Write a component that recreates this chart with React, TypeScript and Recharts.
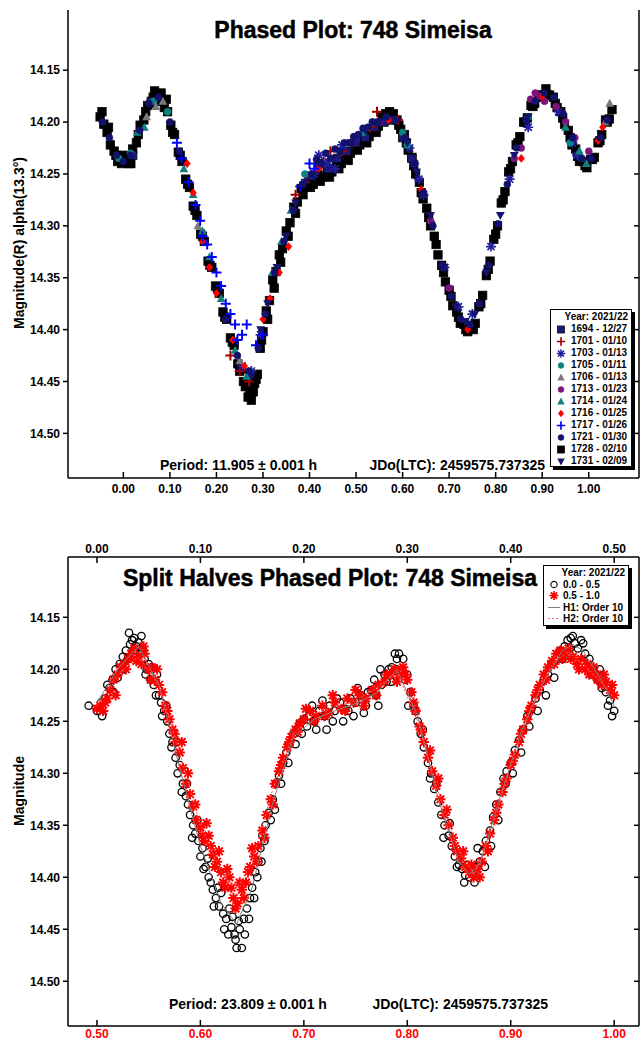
import React from "react";
import { ComposedChart, Scatter, XAxis, YAxis } from "recharts";

type Pt = [number, number];

// ---------- top panel: P = 11.905 h, one array per session [phase, mag] ----------
const s1694: Pt[] = [[0.02, 14.232], [0.06, 14.18], [0.4, 14.252], [0.42, 14.24], [0.44, 14.245], [0.46, 14.235], [0.48, 14.228], [0.5, 14.22], [0.52, 14.215], [0.54, 14.205], [0.56, 14.2], [0.58, 14.198], [0.6, 14.215], [0.62, 14.235]];
const s1701: Pt[] = [[0.545, 14.19], [0.53, 14.205], [0.49, 14.218], [0.47, 14.228], [0.445, 14.228], [0.43, 14.238], [0.39, 14.258], [0.37, 14.27], [0.27, 14.45], [0.25, 14.44], [0.23, 14.425], [0.59, 14.198]];
const s1703: Pt[] = [[0.255, 14.435], [0.275, 14.44], [0.295, 14.405], [0.41, 14.25], [0.42, 14.232], [0.43, 14.24], [0.44, 14.238], [0.455, 14.245], [0.47, 14.222], [0.5, 14.215], [0.615, 14.225], [0.625, 14.24], [0.635, 14.255], [0.645, 14.27], [0.69, 14.34], [0.72, 14.378], [0.75, 14.385], [0.79, 14.32], [0.83, 14.255], [0.87, 14.205], [0.965, 14.22], [0.975, 14.232], [0.935, 14.19]];
const s1705: Pt[] = [[-0.01, 14.235], [0.015, 14.23], [0.065, 14.18], [0.095, 14.19], [0.39, 14.25], [0.515, 14.21], [0.535, 14.2], [0.6, 14.21], [0.61, 14.222], [0.87, 14.195], [0.96, 14.22], [0.985, 14.235]];
const s1706: Pt[] = [[0.05, 14.195], [0.07, 14.185], [0.085, 14.18], [0.16, 14.3], [0.25, 14.43], [1.045, 14.182], [1.035, 14.2]];
const s1713: Pt[] = [[0.84, 14.235], [0.855, 14.225], [0.875, 14.178], [0.885, 14.172], [0.895, 14.175], [0.905, 14.18], [0.93, 14.185], [0.95, 14.2], [0.97, 14.215], [1.0, 14.228], [0.66, 14.295], [0.7, 14.36], [0.55, 14.2]];
const s1714: Pt[] = [[0.03, 14.21], [0.045, 14.205], [0.13, 14.245], [0.15, 14.27], [0.17, 14.305], [0.185, 14.33], [0.21, 14.37], [0.24, 14.42], [0.265, 14.445], [0.32, 14.345], [0.34, 14.315], [0.36, 14.285], [0.98, 14.228], [0.995, 14.24], [0.95, 14.205]];
const s1716: Pt[] = [[0.137, 14.24], [0.15, 14.268], [0.17, 14.315], [0.185, 14.34], [0.2, 14.365], [0.235, 14.41], [0.26, 14.435], [0.3, 14.39], [0.315, 14.37], [0.335, 14.345], [0.355, 14.32], [0.42, 14.245], [0.57, 14.198], [0.64, 14.265], [0.74, 14.4], [0.855, 14.235], [0.9, 14.175], [1.02, 14.218], [1.03, 14.205]];
const s1717: Pt[] = [[0.115, 14.22], [0.125, 14.235], [0.14, 14.258], [0.155, 14.28], [0.165, 14.295], [0.17, 14.31], [0.18, 14.318], [0.19, 14.33], [0.2, 14.345], [0.21, 14.358], [0.22, 14.375], [0.23, 14.385], [0.24, 14.395], [0.245, 14.41], [0.255, 14.405], [0.265, 14.395], [0.285, 14.415], [0.3, 14.405], [0.38, 14.262], [0.4, 14.24], [0.41, 14.245]];
const s1721: Pt[] = [[-0.045, 14.2], [-0.03, 14.215], [-0.015, 14.232], [0.0, 14.238], [0.015, 14.232], [0.035, 14.208], [0.055, 14.182], [0.075, 14.176], [0.1, 14.2], [0.12, 14.228], [0.22, 14.39], [0.245, 14.425], [0.27, 14.44], [0.29, 14.418], [0.305, 14.385], [0.325, 14.345], [0.345, 14.315], [0.365, 14.285], [0.385, 14.26], [0.405, 14.25], [0.415, 14.236], [0.425, 14.24], [0.435, 14.23], [0.445, 14.235], [0.455, 14.226], [0.465, 14.228], [0.475, 14.22], [0.485, 14.22], [0.495, 14.214], [0.505, 14.212], [0.515, 14.206], [0.525, 14.205], [0.535, 14.2], [0.545, 14.2], [0.565, 14.195], [0.585, 14.198], [0.605, 14.215], [0.625, 14.24], [0.645, 14.268], [0.665, 14.3], [0.685, 14.338], [0.705, 14.368], [0.725, 14.39], [0.745, 14.395], [0.765, 14.375], [0.785, 14.338], [0.805, 14.298], [0.825, 14.26], [0.845, 14.225], [0.865, 14.198], [0.885, 14.18], [0.905, 14.172], [0.925, 14.176], [0.945, 14.192], [0.965, 14.215], [0.985, 14.235], [1.005, 14.235], [1.025, 14.215], [1.04, 14.198]];
const s1728: Pt[] = [[-0.05, 14.195], [-0.046, 14.19], [-0.042, 14.202], [-0.035, 14.21], [-0.032, 14.205], [-0.028, 14.222], [-0.02, 14.228], [-0.016, 14.232], [-0.012, 14.238], [-0.004, 14.24], [0.0, 14.232], [0.004, 14.236], [0.012, 14.24], [0.016, 14.24], [0.02, 14.226], [0.028, 14.22], [0.032, 14.212], [0.036, 14.203], [0.044, 14.198], [0.048, 14.19], [0.052, 14.184], [0.06, 14.182], [0.064, 14.176], [0.067, 14.17], [0.074, 14.176], [0.078, 14.18], [0.081, 14.172], [0.088, 14.186], [0.092, 14.178], [0.095, 14.19], [0.102, 14.203], [0.106, 14.21], [0.11, 14.212], [0.118, 14.229], [0.122, 14.232], [0.126, 14.238], [0.134, 14.255], [0.138, 14.26], [0.142, 14.263], [0.15, 14.281], [0.154, 14.285], [0.158, 14.29], [0.166, 14.308], [0.17, 14.31], [0.174, 14.315], [0.182, 14.334], [0.186, 14.338], [0.19, 14.34], [0.198, 14.358], [0.202, 14.36], [0.206, 14.365], [0.214, 14.383], [0.218, 14.388], [0.222, 14.39], [0.23, 14.408], [0.234, 14.412], [0.238, 14.415], [0.246, 14.433], [0.25, 14.44], [0.254, 14.438], [0.258, 14.45], [0.262, 14.455], [0.268, 14.465], [0.272, 14.462], [0.275, 14.468], [0.279, 14.46], [0.282, 14.452], [0.285, 14.448], [0.288, 14.443], [0.294, 14.418], [0.297, 14.41], [0.3, 14.402], [0.307, 14.382], [0.31, 14.39], [0.314, 14.372], [0.321, 14.352], [0.324, 14.36], [0.328, 14.344], [0.335, 14.328], [0.338, 14.335], [0.342, 14.322], [0.35, 14.305], [0.354, 14.31], [0.358, 14.297], [0.366, 14.282], [0.37, 14.288], [0.374, 14.277], [0.382, 14.264], [0.386, 14.27], [0.39, 14.262], [0.398, 14.258], [0.402, 14.263], [0.408, 14.26], [0.418, 14.251], [0.423, 14.257], [0.428, 14.253], [0.438, 14.245], [0.443, 14.253], [0.448, 14.248], [0.458, 14.239], [0.463, 14.245], [0.468, 14.24], [0.478, 14.231], [0.483, 14.237], [0.488, 14.23], [0.498, 14.221], [0.503, 14.227], [0.508, 14.222], [0.518, 14.213], [0.523, 14.22], [0.528, 14.214], [0.538, 14.205], [0.543, 14.21], [0.548, 14.204], [0.556, 14.195], [0.56, 14.198], [0.564, 14.192], [0.572, 14.19], [0.576, 14.194], [0.58, 14.192], [0.588, 14.198], [0.592, 14.203], [0.596, 14.207], [0.604, 14.212], [0.608, 14.22], [0.612, 14.227], [0.62, 14.234], [0.624, 14.242], [0.628, 14.25], [0.636, 14.258], [0.64, 14.268], [0.644, 14.274], [0.652, 14.283], [0.656, 14.292], [0.66, 14.3], [0.668, 14.31], [0.672, 14.318], [0.676, 14.328], [0.684, 14.338], [0.688, 14.345], [0.692, 14.354], [0.7, 14.362], [0.704, 14.368], [0.708, 14.377], [0.716, 14.383], [0.72, 14.388], [0.724, 14.394], [0.732, 14.395], [0.736, 14.4], [0.74, 14.402], [0.748, 14.396], [0.752, 14.4], [0.756, 14.394], [0.764, 14.378], [0.768, 14.375], [0.772, 14.367], [0.78, 14.348], [0.784, 14.342], [0.788, 14.334], [0.796, 14.313], [0.8, 14.308], [0.804, 14.3], [0.812, 14.278], [0.816, 14.275], [0.82, 14.267], [0.828, 14.248], [0.832, 14.245], [0.836, 14.238], [0.844, 14.222], [0.848, 14.22], [0.852, 14.214], [0.86, 14.2], [0.864, 14.2], [0.868, 14.196], [0.876, 14.184], [0.88, 14.185], [0.884, 14.182], [0.892, 14.174], [0.896, 14.176], [0.9, 14.174], [0.908, 14.168], [0.912, 14.174], [0.916, 14.174], [0.924, 14.176], [0.928, 14.182], [0.932, 14.186], [0.94, 14.19], [0.944, 14.196], [0.948, 14.202], [0.956, 14.208], [0.96, 14.215], [0.964, 14.222], [0.972, 14.226], [0.976, 14.233], [0.98, 14.238], [0.988, 14.238], [0.992, 14.242], [0.996, 14.244], [1.004, 14.236], [1.008, 14.236], [1.012, 14.234], [1.02, 14.22], [1.024, 14.218], [1.028, 14.212], [1.036, 14.198], [1.04, 14.2], [1.044, 14.197], [1.05, 14.188]];
const s1731: Pt[] = [[0.275, 14.445], [0.295, 14.4], [0.31, 14.375], [0.33, 14.34], [0.35, 14.31], [0.37, 14.278], [0.39, 14.258], [0.45, 14.235], [0.49, 14.22], [0.52, 14.208], [0.55, 14.2], [0.61, 14.22], [0.63, 14.248], [0.66, 14.29], [0.69, 14.34], [0.715, 14.378], [0.735, 14.392], [0.755, 14.385], [0.78, 14.345], [0.81, 14.29], [0.84, 14.232], [0.87, 14.195]];

// ---------- bottom panel: P = 23.809 h, split halves ----------
const half1: Pt[] = [[-0.008, 14.235], [0.0, 14.24], [0.004, 14.232], [0.005, 14.245], [0.008, 14.228], [0.01, 14.215], [0.012, 14.218], [0.015, 14.21], [0.016, 14.222], [0.018, 14.2], [0.02, 14.208], [0.022, 14.195], [0.025, 14.188], [0.026, 14.2], [0.028, 14.182], [0.03, 14.19], [0.031, 14.165], [0.032, 14.176], [0.034, 14.172], [0.036, 14.17], [0.037, 14.185], [0.038, 14.178], [0.04, 14.174], [0.042, 14.185], [0.043, 14.168], [0.044, 14.18], [0.046, 14.19], [0.047, 14.205], [0.048, 14.2], [0.05, 14.195], [0.052, 14.21], [0.053, 14.198], [0.055, 14.215], [0.057, 14.225], [0.058, 14.205], [0.06, 14.225], [0.062, 14.232], [0.063, 14.245], [0.065, 14.24], [0.067, 14.235], [0.068, 14.25], [0.07, 14.262], [0.072, 14.275], [0.073, 14.27], [0.076, 14.285], [0.077, 14.27], [0.078, 14.3], [0.08, 14.292], [0.082, 14.318], [0.083, 14.31], [0.086, 14.322], [0.087, 14.31], [0.088, 14.33], [0.09, 14.34], [0.092, 14.362], [0.093, 14.35], [0.095, 14.358], [0.097, 14.345], [0.098, 14.365], [0.1, 14.38], [0.102, 14.372], [0.103, 14.392], [0.105, 14.39], [0.107, 14.382], [0.108, 14.4], [0.11, 14.405], [0.112, 14.412], [0.113, 14.428], [0.115, 14.42], [0.117, 14.41], [0.118, 14.428], [0.12, 14.415], [0.122, 14.435], [0.123, 14.45], [0.125, 14.44], [0.127, 14.455], [0.128, 14.43], [0.13, 14.448], [0.131, 14.438], [0.133, 14.455], [0.134, 14.46], [0.135, 14.468], [0.137, 14.442], [0.138, 14.45], [0.14, 14.468], [0.142, 14.44], [0.143, 14.455], [0.145, 14.43], [0.147, 14.44], [0.148, 14.42], [0.15, 14.41], [0.152, 14.42], [0.153, 14.395], [0.155, 14.4], [0.156, 14.385], [0.158, 14.372], [0.159, 14.385], [0.16, 14.36], [0.162, 14.365], [0.163, 14.35], [0.166, 14.338], [0.168, 14.345], [0.17, 14.325], [0.172, 14.335], [0.173, 14.31], [0.176, 14.302], [0.178, 14.31], [0.18, 14.29], [0.183, 14.28], [0.185, 14.29], [0.186, 14.272], [0.19, 14.262], [0.192, 14.272], [0.193, 14.258], [0.196, 14.252], [0.198, 14.262], [0.2, 14.248], [0.203, 14.255], [0.205, 14.245], [0.208, 14.235], [0.21, 14.25], [0.212, 14.258], [0.215, 14.24], [0.218, 14.23], [0.22, 14.245], [0.222, 14.258], [0.225, 14.235], [0.228, 14.25], [0.23, 14.24], [0.232, 14.228], [0.235, 14.232], [0.238, 14.25], [0.24, 14.238], [0.243, 14.24], [0.245, 14.228], [0.248, 14.245], [0.25, 14.232], [0.252, 14.218], [0.255, 14.225], [0.258, 14.242], [0.26, 14.235], [0.262, 14.222], [0.265, 14.22], [0.268, 14.21], [0.27, 14.225], [0.272, 14.235], [0.274, 14.2], [0.275, 14.215], [0.278, 14.205], [0.28, 14.212], [0.282, 14.2], [0.284, 14.212], [0.285, 14.198], [0.288, 14.185], [0.289, 14.2], [0.29, 14.19], [0.292, 14.185], [0.295, 14.2], [0.296, 14.19], [0.298, 14.21], [0.3, 14.205], [0.301, 14.235], [0.303, 14.222], [0.306, 14.235], [0.308, 14.24], [0.31, 14.25], [0.313, 14.262], [0.315, 14.258], [0.316, 14.275], [0.32, 14.29], [0.322, 14.305], [0.323, 14.3], [0.326, 14.315], [0.328, 14.31], [0.33, 14.328], [0.333, 14.34], [0.335, 14.362], [0.336, 14.35], [0.34, 14.36], [0.341, 14.348], [0.343, 14.37], [0.346, 14.38], [0.348, 14.39], [0.35, 14.388], [0.353, 14.392], [0.355, 14.405], [0.356, 14.398], [0.358, 14.388], [0.36, 14.4], [0.363, 14.395], [0.365, 14.405], [0.366, 14.39], [0.368, 14.372], [0.37, 14.385], [0.373, 14.375], [0.375, 14.39], [0.376, 14.365], [0.38, 14.355], [0.381, 14.37], [0.383, 14.342], [0.386, 14.33], [0.388, 14.345], [0.39, 14.318], [0.393, 14.305], [0.395, 14.31], [0.396, 14.298], [0.4, 14.29], [0.402, 14.3], [0.404, 14.278], [0.408, 14.268], [0.41, 14.28], [0.412, 14.258], [0.416, 14.245], [0.418, 14.255], [0.42, 14.238], [0.424, 14.228], [0.426, 14.24], [0.428, 14.22], [0.432, 14.21], [0.434, 14.225], [0.436, 14.205], [0.44, 14.195], [0.442, 14.208], [0.444, 14.19], [0.448, 14.182], [0.45, 14.19], [0.452, 14.178], [0.455, 14.172], [0.457, 14.18], [0.458, 14.17], [0.46, 14.168], [0.462, 14.175], [0.465, 14.18], [0.468, 14.172], [0.47, 14.175], [0.472, 14.185], [0.476, 14.19], [0.478, 14.205], [0.48, 14.2], [0.484, 14.21], [0.486, 14.2], [0.488, 14.218], [0.492, 14.222], [0.494, 14.235], [0.496, 14.23], [0.498, 14.245], [0.5, 14.24]];
const half2: Pt[] = [[0.5, 14.238], [0.503, 14.235], [0.506, 14.24], [0.508, 14.232], [0.51, 14.228], [0.513, 14.22], [0.516, 14.21], [0.518, 14.225], [0.52, 14.205], [0.523, 14.198], [0.526, 14.195], [0.528, 14.2], [0.53, 14.19], [0.533, 14.185], [0.536, 14.18], [0.538, 14.192], [0.54, 14.188], [0.543, 14.195], [0.545, 14.178], [0.546, 14.185], [0.55, 14.2], [0.552, 14.21], [0.553, 14.198], [0.556, 14.21], [0.558, 14.2], [0.56, 14.215], [0.563, 14.222], [0.566, 14.235], [0.568, 14.24], [0.57, 14.248], [0.573, 14.258], [0.575, 14.262], [0.576, 14.27], [0.58, 14.28], [0.582, 14.27], [0.583, 14.295], [0.586, 14.31], [0.588, 14.3], [0.59, 14.32], [0.593, 14.332], [0.595, 14.33], [0.596, 14.345], [0.6, 14.352], [0.602, 14.36], [0.604, 14.365], [0.606, 14.348], [0.608, 14.36], [0.61, 14.37], [0.612, 14.378], [0.614, 14.39], [0.616, 14.385], [0.618, 14.375], [0.62, 14.395], [0.622, 14.405], [0.624, 14.41], [0.626, 14.392], [0.628, 14.4], [0.63, 14.41], [0.632, 14.42], [0.634, 14.43], [0.636, 14.425], [0.638, 14.405], [0.64, 14.412], [0.642, 14.42], [0.644, 14.405], [0.646, 14.395], [0.648, 14.39], [0.65, 14.372], [0.652, 14.38], [0.655, 14.385], [0.656, 14.37], [0.66, 14.355], [0.662, 14.362], [0.664, 14.34], [0.668, 14.325], [0.67, 14.33], [0.672, 14.31], [0.676, 14.298], [0.678, 14.292], [0.68, 14.285], [0.684, 14.275], [0.686, 14.27], [0.688, 14.265], [0.692, 14.258], [0.694, 14.26], [0.696, 14.252], [0.7, 14.248], [0.702, 14.238], [0.706, 14.24], [0.71, 14.25], [0.712, 14.245], [0.718, 14.235], [0.72, 14.245], [0.724, 14.242], [0.728, 14.225], [0.73, 14.232], [0.736, 14.238], [0.74, 14.24], [0.742, 14.228], [0.748, 14.232], [0.75, 14.22], [0.754, 14.225], [0.758, 14.235], [0.76, 14.228], [0.766, 14.22], [0.77, 14.225], [0.772, 14.215], [0.778, 14.212], [0.78, 14.205], [0.784, 14.205], [0.788, 14.2], [0.79, 14.212], [0.792, 14.205], [0.796, 14.198], [0.798, 14.205], [0.8, 14.21], [0.804, 14.222], [0.806, 14.232], [0.808, 14.24], [0.812, 14.255], [0.814, 14.26], [0.816, 14.27], [0.82, 14.285], [0.822, 14.278], [0.824, 14.298], [0.828, 14.312], [0.83, 14.305], [0.832, 14.325], [0.836, 14.34], [0.838, 14.335], [0.84, 14.35], [0.844, 14.362], [0.846, 14.37], [0.848, 14.375], [0.852, 14.382], [0.854, 14.375], [0.856, 14.39], [0.86, 14.395], [0.862, 14.388], [0.864, 14.4], [0.868, 14.392], [0.87, 14.4], [0.872, 14.385], [0.876, 14.37], [0.878, 14.375], [0.88, 14.358], [0.884, 14.345], [0.886, 14.338], [0.888, 14.33], [0.892, 14.318], [0.894, 14.31], [0.896, 14.305], [0.9, 14.292], [0.902, 14.288], [0.904, 14.282], [0.908, 14.27], [0.91, 14.262], [0.912, 14.258], [0.916, 14.248], [0.918, 14.24], [0.92, 14.235], [0.924, 14.225], [0.926, 14.22], [0.928, 14.215], [0.932, 14.205], [0.934, 14.21], [0.936, 14.198], [0.94, 14.192], [0.942, 14.195], [0.944, 14.185], [0.948, 14.182], [0.95, 14.19], [0.952, 14.185], [0.956, 14.18], [0.958, 14.19], [0.96, 14.188], [0.964, 14.195], [0.966, 14.2], [0.968, 14.19], [0.972, 14.2], [0.974, 14.195], [0.976, 14.205], [0.98, 14.198], [0.982, 14.205], [0.984, 14.21], [0.988, 14.215], [0.99, 14.205], [0.992, 14.212], [0.996, 14.22], [0.998, 14.215], [1.0, 14.225]];
const fitH1: Pt[] = [[0, 14.232], [0.02, 14.2], [0.04, 14.178], [0.06, 14.215], [0.08, 14.295], [0.1, 14.37], [0.12, 14.425], [0.135, 14.445], [0.15, 14.41], [0.17, 14.328], [0.19, 14.265], [0.21, 14.248], [0.23, 14.24], [0.25, 14.233], [0.27, 14.223], [0.29, 14.2], [0.31, 14.245], [0.33, 14.325], [0.35, 14.385], [0.36, 14.397], [0.37, 14.388], [0.39, 14.322], [0.41, 14.26], [0.43, 14.215], [0.45, 14.182], [0.46, 14.176], [0.47, 14.182], [0.49, 14.215], [0.5, 14.235]];
const fitH2: Pt[] = [[0.5, 14.235], [0.52, 14.205], [0.54, 14.188], [0.56, 14.215], [0.58, 14.28], [0.6, 14.35], [0.62, 14.395], [0.635, 14.412], [0.65, 14.385], [0.67, 14.315], [0.69, 14.262], [0.71, 14.243], [0.73, 14.236], [0.75, 14.23], [0.77, 14.218], [0.79, 14.203], [0.81, 14.25], [0.83, 14.318], [0.85, 14.375], [0.865, 14.397], [0.88, 14.36], [0.9, 14.293], [0.92, 14.237], [0.94, 14.195], [0.955, 14.183], [0.97, 14.195], [0.99, 14.215], [1.0, 14.228]];

const phaseTicks = [0, 0.1, 0.2, 0.3, 0.4, 0.5, 0.6, 0.7, 0.8, 0.9, 1.0];
const firstHalfTicks = [0, 0.1, 0.2, 0.3, 0.4, 0.5];
const secondHalfTicks = [0.5, 0.6, 0.7, 0.8, 0.9, 1.0];
const magTicks = [14.15, 14.2, 14.25, 14.3, 14.35, 14.4, 14.45, 14.5];

const sessions = [
  { label: "1694 - 12/27", data: s1694, kind: "sq", color: "#1a1a78" },
  { label: "1701 - 01/10", data: s1701, kind: "plus", color: "#a00000" },
  { label: "1703 - 01/13", data: s1703, kind: "ast", color: "#2020a0" },
  { label: "1705 - 01/11", data: s1705, kind: "dot", color: "#108080" },
  { label: "1706 - 01/13", data: s1706, kind: "tri", color: "#7a7a7a" },
  { label: "1713 - 01/23", data: s1713, kind: "dot", color: "#7a157a" },
  { label: "1714 - 01/24", data: s1714, kind: "tri", color: "#138080" },
  { label: "1716 - 01/25", data: s1716, kind: "dia", color: "#ff0000" },
  { label: "1717 - 01/26", data: s1717, kind: "plus", color: "#0000ff" },
  { label: "1721 - 01/30", data: s1721, kind: "dot", color: "#12126e" },
  { label: "1728 - 02/10", data: s1728, kind: "sq", color: "#000000" },
  { label: "1731 - 02/09", data: s1731, kind: "dtri", color: "#14146e" },
];

// draw order: black squares underneath the navy/blue sessions on the plateau
const drawOrder = [10, 0, 1, 2, 3, 4, 5, 6, 7, 8, 9, 11];

const FONT = "'Liberation Sans', Arial, sans-serif";
const xy = (a: Pt[]) => a.map(([x, y]) => ({ x, y }));
const fmt = (v: number) => v.toFixed(2);
const blank = () => "";
const tickStyle = { fill: "#000", fontSize: 12, fontWeight: 700, fontFamily: FONT };

function Mark({ kind, color, cx, cy }: { kind: string; color: string; cx: number; cy: number }) {
  switch (kind) {
    case "sq":
      return <rect x={cx - 4.2} y={cy - 4.2} width={8.4} height={8.4} fill={color} stroke="#000" strokeWidth={0.8} />;
    case "plus":
      return <path d={`M${cx - 5},${cy}H${cx + 5}M${cx},${cy - 5}V${cy + 5}`} stroke={color} strokeWidth={2} />;
    case "ast":
      return (
        <path
          d={`M${cx - 5},${cy}H${cx + 5}M${cx},${cy - 5}V${cy + 5}M${cx - 3.6},${cy - 3.6}L${cx + 3.6},${cy + 3.6}M${cx - 3.6},${cy + 3.6}L${cx + 3.6},${cy - 3.6}`}
          stroke={color}
          strokeWidth={1.7}
        />
      );
    case "star":
      return (
        <path
          d={`M${cx - 5.2},${cy}H${cx + 5.2}M${cx},${cy - 5.2}V${cy + 5.2}M${cx - 3.8},${cy - 3.8}L${cx + 3.8},${cy + 3.8}M${cx - 3.8},${cy + 3.8}L${cx + 3.8},${cy - 3.8}`}
          stroke={color}
          strokeWidth={2}
        />
      );
    case "dot":
      return <circle cx={cx} cy={cy} r={3.5} fill={color} stroke={color} strokeWidth={0.5} />;
    case "ring":
      return <circle cx={cx} cy={cy} r={3.7} fill="none" stroke={color} strokeWidth={1.3} />;
    case "tri":
      return <polygon points={`${cx},${cy - 4.6} ${cx + 4.4},${cy + 3.4} ${cx - 4.4},${cy + 3.4}`} fill={color} />;
    case "dtri":
      return <polygon points={`${cx},${cy + 4.6} ${cx + 4.4},${cy - 3.4} ${cx - 4.4},${cy - 3.4}`} fill={color} />;
    case "dia":
      return <polygon points={`${cx},${cy - 4.3} ${cx + 3.6},${cy} ${cx},${cy + 4.3} ${cx - 3.6},${cy}`} fill={color} />;
    default:
      return <g />;
  }
}

const shape = (kind: string, color: string) => (p: any) => <Mark kind={kind} color={color} cx={p.cx} cy={p.cy} />;
const noShape = () => <g />;

function Icon({ kind, color }: { kind: string; color: string }) {
  return (
    <svg width={12} height={11} style={{ display: "block" }} viewBox="-1 -1 14 13">
      <Mark kind={kind} color={color} cx={6} cy={5.5} />
    </svg>
  );
}

const centered = (x: number, y: number): React.CSSProperties => ({
  position: "absolute",
  left: x,
  top: y,
  transform: "translate(-50%, -50%)",
  whiteSpace: "nowrap",
});

const MAG_DOMAIN: [number, number] = [14.092, 14.543];

function TopPanel() {
  return (
    <ComposedChart width={642} height={500} margin={{ top: 10, right: 0, bottom: 0, left: 0 }}>
      <XAxis xAxisId="b" type="number" dataKey="x" domain={[-0.119, 1.108]} allowDataOverflow ticks={phaseTicks} tickFormatter={fmt} orientation="bottom" height={22} tickSize={-6} tickMargin={12} stroke="#000" strokeWidth={1.5} tick={tickStyle} interval={0} />
      <XAxis xAxisId="t" type="number" dataKey="x" domain={[-0.119, 1.108]} allowDataOverflow ticks={phaseTicks} tickFormatter={blank} orientation="top" height={0} tickSize={-6} stroke="#000" strokeWidth={1.5} interval={0} />
      <YAxis yAxisId="l" type="number" dataKey="y" domain={MAG_DOMAIN} reversed allowDataOverflow ticks={magTicks} tickFormatter={fmt} width={68} tickSize={5} tickMargin={3} stroke="#000" strokeWidth={1.5} tick={tickStyle} interval={0} />
      <YAxis yAxisId="r" type="number" dataKey="y" orientation="right" domain={MAG_DOMAIN} reversed allowDataOverflow ticks={magTicks} tickFormatter={blank} width={3} tickSize={-5} stroke="#000" strokeWidth={1.5} interval={0} />
      {drawOrder.map((i) => {
        const s = sessions[i];
        return <Scatter key={s.label} xAxisId="b" yAxisId="l" data={xy(s.data)} shape={shape(s.kind, s.color)} isAnimationActive={false} />;
      })}
    </ComposedChart>
  );
}

function BottomPanel() {
  return (
    <ComposedChart width={642} height={510} margin={{ top: 0, right: 0, bottom: 0, left: 0 }}>
      <XAxis xAxisId="t" type="number" dataKey="x" domain={[-0.028, 0.524]} allowDataOverflow ticks={firstHalfTicks} tickFormatter={fmt} orientation="top" height={27} tickSize={-6} tickMargin={10} stroke="#000" strokeWidth={1.5} tick={tickStyle} interval={0} />
      <XAxis xAxisId="b" type="number" dataKey="x" domain={[0.472, 1.024]} allowDataOverflow ticks={secondHalfTicks} tickFormatter={fmt} orientation="bottom" height={14} tickSize={-6} tickMargin={9} stroke="#000" strokeWidth={1.5} tick={{ ...tickStyle, fill: "#ff0000" }} interval={0} />
      <YAxis yAxisId="l" type="number" dataKey="y" domain={MAG_DOMAIN} reversed allowDataOverflow ticks={magTicks} tickFormatter={fmt} width={68} tickSize={5} tickMargin={3} stroke="#000" strokeWidth={1.5} tick={tickStyle} interval={0} />
      <YAxis yAxisId="r" type="number" dataKey="y" orientation="right" domain={MAG_DOMAIN} reversed allowDataOverflow ticks={magTicks} tickFormatter={blank} width={3} tickSize={-5} stroke="#000" strokeWidth={1.5} interval={0} />
      <Scatter xAxisId="t" yAxisId="l" data={xy(half1)} shape={shape("ring", "#000")} isAnimationActive={false} />
      <Scatter xAxisId="b" yAxisId="l" data={xy(half2)} shape={shape("star", "#ff0000")} isAnimationActive={false} />
      <Scatter xAxisId="t" yAxisId="l" data={xy(fitH1)} line={{ stroke: "#808080", strokeWidth: 1 }} shape={noShape} isAnimationActive={false} />
      <Scatter xAxisId="b" yAxisId="l" data={xy(fitH2)} line={{ stroke: "#ff6060", strokeWidth: 1, strokeDasharray: "2 2" }} shape={noShape} isAnimationActive={false} />
    </ComposedChart>
  );
}

const boxStyle: React.CSSProperties = {
  position: "absolute",
  background: "#fff",
  border: "1px solid #000",
  boxShadow: "3px 3px 0 #000",
  fontSize: 10,
  fontWeight: 700,
  lineHeight: "12px",
  padding: "1px 3px 1px 4px",
  boxSizing: "border-box",
};

const titleStyle: React.CSSProperties = { fontWeight: 700, fontSize: 23, WebkitTextStroke: "0.5px #000" };
const periodStyle: React.CSSProperties = { position: "absolute", fontWeight: 700, fontSize: 14, whiteSpace: "nowrap", lineHeight: "16px" };
const axisTitle: React.CSSProperties = { fontWeight: 700, fontSize: 14, transform: "translate(-50%, -50%) rotate(-90deg)" };

export default function App() {
  return (
    <div style={{ position: "relative", width: 642, height: 1040, fontFamily: FONT, background: "#fff", overflow: "hidden" }}>
      <style>{"body{margin:0}"}</style>
      <div style={{ position: "absolute", left: 0, top: 0 }}>
        <TopPanel />
      </div>
      <div style={{ position: "absolute", left: 0, top: 530 }}>
        <BottomPanel />
      </div>

      <div style={{ ...centered(353, 30), ...titleStyle }}>Phased Plot: 748 Simeisa</div>
      <div style={{ ...centered(330, 578), ...titleStyle }}>Split Halves Phased Plot: 748 Simeisa</div>

      <div style={{ ...centered(19, 243), ...axisTitle }}>Magnitude(R) alpha(13.3°)</div>
      <div style={{ ...centered(19, 791), ...axisTitle }}>Magnitude</div>

      <div style={{ ...periodStyle, left: 160, top: 457 }}>Period: 11.905 ± 0.001 h</div>
      <div style={{ ...periodStyle, right: 97, top: 457 }}>JDo(LTC): 2459575.737325</div>
      <div style={{ ...periodStyle, left: 169, top: 996 }}>Period: 23.809 ± 0.001 h</div>
      <div style={{ ...periodStyle, right: 94, top: 996 }}>JDo(LTC): 2459575.737325</div>

      <div style={{ ...boxStyle, left: 550, top: 309, width: 82, height: 158 }}>
        <div style={{ textAlign: "right" }}>Year: 2021/22</div>
        {sessions.map((s) => (
          <div key={s.label} style={{ display: "flex", alignItems: "center", gap: 4 }}>
            <Icon kind={s.kind} color={s.color} />
            <span>{s.label}</span>
          </div>
        ))}
      </div>

      <div style={{ ...boxStyle, left: 543, top: 565, width: 86, height: 61, lineHeight: "11.5px" }}>
        <div style={{ textAlign: "right" }}>Year: 2021/22</div>
        <div style={{ display: "flex", alignItems: "center", gap: 3 }}>
          <Icon kind="ring" color="#000" />
          <span>0.0 - 0.5</span>
        </div>
        <div style={{ display: "flex", alignItems: "center", gap: 3 }}>
          <Icon kind="star" color="#ff0000" />
          <span>0.5 - 1.0</span>
        </div>
        <div style={{ display: "flex", alignItems: "center", gap: 3 }}>
          <svg width={12} height={11} style={{ display: "block" }}>
            <line x1={0} x2={12} y1={5.5} y2={5.5} stroke="#808080" strokeWidth={1} />
          </svg>
          <span>H1: Order 10</span>
        </div>
        <div style={{ display: "flex", alignItems: "center", gap: 3 }}>
          <svg width={12} height={11} style={{ display: "block" }}>
            <line x1={0} x2={12} y1={5.5} y2={5.5} stroke="#ff6060" strokeWidth={1} strokeDasharray="2 2" />
          </svg>
          <span>H2: Order 10</span>
        </div>
      </div>
    </div>
  );
}
